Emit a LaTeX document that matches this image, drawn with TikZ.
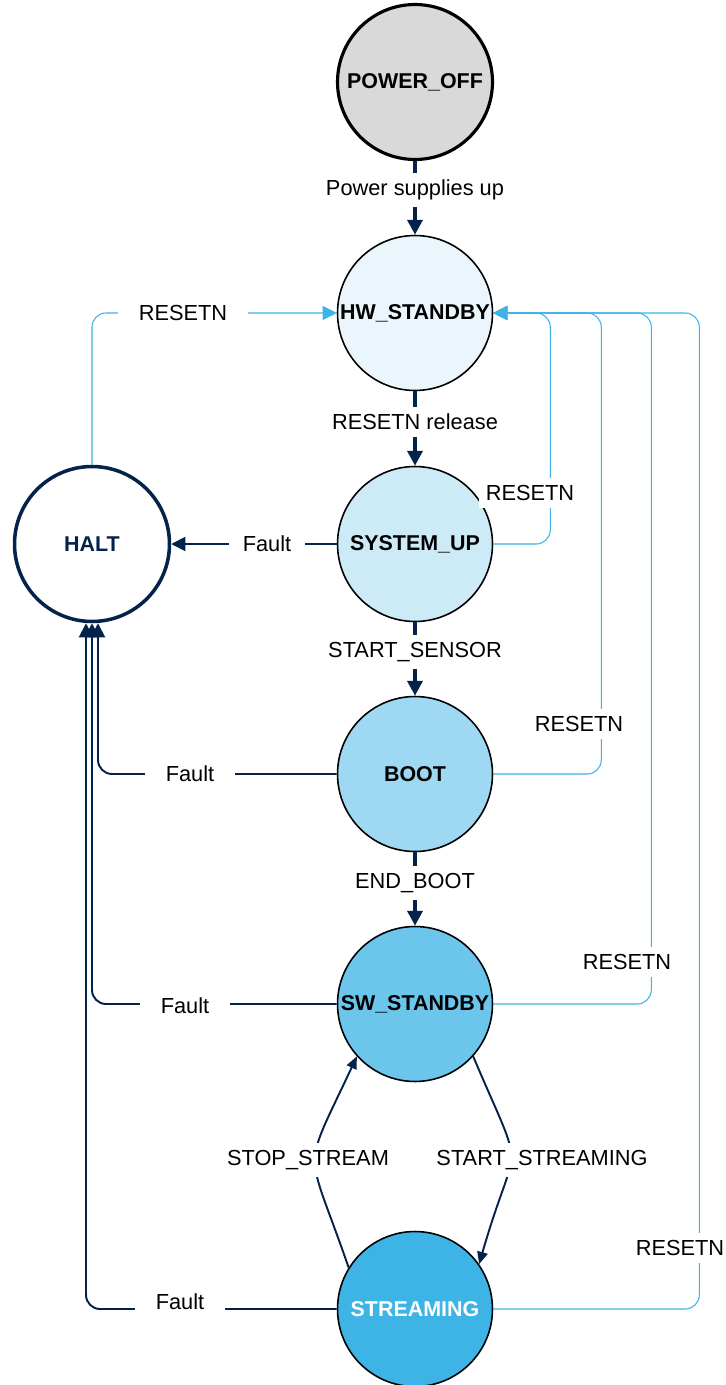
\documentclass[tikz,border=0pt]{standalone}
\usepackage{fontspec}
\setmainfont{Liberation Sans}
\usetikzlibrary{arrows.meta}

\definecolor{stnavy}{HTML}{03234B}
\definecolor{stsky}{HTML}{3CB4E6}
\definecolor{offgray}{HTML}{D9D9D9}
\definecolor{fillA}{HTML}{EAF6FB}
\definecolor{fillB}{HTML}{CDEBF7}
\definecolor{fillC}{HTML}{9FD8F2}
\definecolor{fillD}{HTML}{6CC5EB}
\definecolor{fillE}{HTML}{3DB4E5}

\tikzset{
  state/.style={circle, draw=black, line width=0.9pt, minimum size=3.1cm, inner sep=0pt,
    font=\bfseries\fontsize{12.2}{14}\selectfont},
  lbl/.style={fill=white, inner xsep=8pt, inner ysep=4pt, font=\fontsize{12.4}{14}\selectfont},
  mainarrow/.style={-{Triangle[length=8.5pt,width=8.5pt]}, stnavy, line width=2.6pt},
  faultline/.style={-{Triangle[length=8pt,width=8pt]}, stnavy, line width=1.1pt, rounded corners=8},
  curvearrow/.style={-{Triangle[length=7pt,width=6pt]}, stnavy, line width=1.1pt},
  resetline/.style={-{Triangle[length=8pt,width=8pt]}, stsky, line width=0.6pt, rounded corners=8}
}

\begin{document}
\begin{tikzpicture}[x=0.02cm, y=-0.02cm]
  \useasboundingbox (0,0) rectangle (726,1385);

  % States (1 unit = 1 px of the 726 x 1385 sheet)
  \node[state, fill=offgray, line width=1.8pt] (poweroff) at (415,82) {POWER\_OFF};
  \node[state, fill=fillA] (hwstandby) at (415,313) {HW\_STANDBY};
  \node[state, fill=fillB] (systemup) at (415,544) {SYSTEM\_UP};
  \node[state, fill=fillC] (boot) at (415,774) {BOOT};
  \node[state, fill=fillD] (swstandby) at (415,1004) {SW\_STANDBY};
  \node[state, fill=fillE, text=white] (streaming) at (415,1309) {STREAMING};
  \node[state, fill=white, draw=stnavy, line width=2pt, text=stnavy] (halt) at (92,544) {HALT};

  % Main sequence
  \draw[mainarrow] (poweroff) -- (hwstandby);
  \draw[mainarrow] (hwstandby) -- (systemup);
  \draw[mainarrow] (systemup) -- (boot);
  \draw[mainarrow] (boot) -- (swstandby);

  % Streaming loop
  \draw[curvearrow] (swstandby.-42) to[out=-67, in=74, looseness=1.7] (streaming.35);
  \draw[curvearrow] (streaming.148) to[out=109, in=-115, looseness=1.6] (swstandby.222);

  % Faults to HALT
  \draw[faultline] (systemup.west) -- (halt.east);
  \draw[faultline] (boot.west) -| ([xshift=0.12cm]halt.south);
  \draw[faultline] (swstandby.west) -| (halt.south);
  \draw[faultline] (streaming.west) -| ([xshift=-0.12cm]halt.south);

  % RESETN back to HW_STANDBY
  \draw[resetline] (halt.north) |- (hwstandby.west);
  \draw[resetline] (systemup.east) -- ++(57,0) |- (hwstandby.east);
  \draw[resetline] (boot.east) -- ++(108,0) |- (hwstandby.east);
  \draw[resetline] (swstandby.east) -- ++(158,0) |- (hwstandby.east);
  \draw[resetline] (streaming.east) -- ++(206,0) |- (hwstandby.east);

  % Labels
  \node[lbl] (lpower) at (415,190) {Power supplies up};
  \node[lbl] (lrelease) at (415,422) {RESETN release};
  \node[lbl] (lsensor) at (415,652) {START\_SENSOR};
  \node[lbl] (lendboot) at (415,883) {END\_BOOT};
  \node[lbl] (lstart) at (542,1160) {START\_STREAMING};
  \node[lbl] (lstop) at (308,1160) {STOP\_STREAM};
  \node[lbl] (fault1) at (267,544) {Fault};
  \node[lbl, inner xsep=12pt] (fault2) at (190,774) {Fault};
  \node[lbl, inner xsep=12pt] (fault3) at (185,1006) {Fault};
  \node[lbl, inner xsep=12pt] (fault4) at (180,1302) {Fault};
  \node[lbl, inner xsep=12pt] (reset1) at (183,313) {RESETN};
  \node[lbl, inner xsep=4pt] (reset2) at (530,493) {RESETN};
  \node[lbl, inner xsep=4pt] (reset3) at (579,724) {RESETN};
  \node[lbl, inner xsep=4pt] (reset4) at (627,962) {RESETN};
  \node[lbl, inner xsep=4pt] (reset5) at (680,1248) {RESETN};
\end{tikzpicture}
\end{document}
